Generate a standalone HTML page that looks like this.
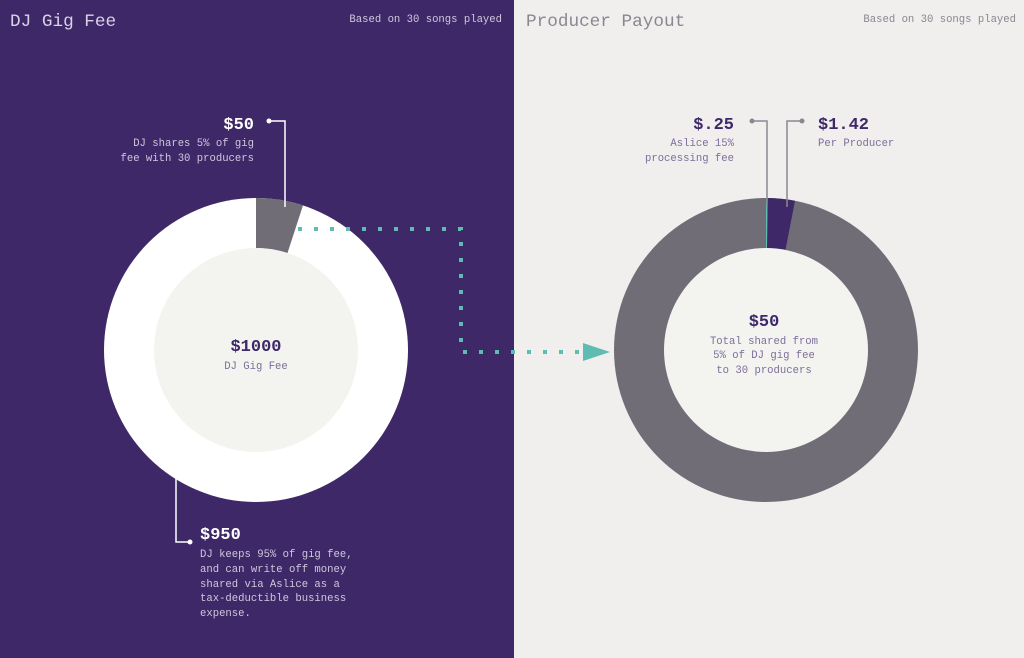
<!DOCTYPE html>
<html><head><meta charset="utf-8"><style>
body{margin:0;width:1024px;height:658px;overflow:hidden}
svg{display:block}
text{font-family:"Liberation Mono",monospace}
</style></head><body>
<svg width="1024" height="658" viewBox="0 0 1024 658">
<rect x="0" y="0" width="514" height="658" fill="#3e2868"/>
<rect x="514" y="0" width="510" height="658" fill="#f0efee"/>
<text x="10" y="26" font-size="17.7" fill="#d9d2e6">DJ Gig Fee</text>
<text x="502" y="22" font-size="10.6" fill="#cfc8dc" text-anchor="end">Based on 30 songs played</text>
<text x="526" y="26" font-size="17.7" fill="#8a8790">Producer Payout</text>
<text x="1016" y="22" font-size="10.6" fill="#8a8790" text-anchor="end">Based on 30 songs played</text>

<circle cx="256" cy="350" r="152" fill="#ffffff"/>
<path d="M256 198 A152 152 0 0 1 303 205.4 L287.5 253 A102 102 0 0 0 256 248 Z" fill="#716d76"/>
<circle cx="256" cy="350" r="102" fill="#f3f3ef"/>
<text x="256" y="351" font-size="17" font-weight="bold" fill="#3e2868" text-anchor="middle">$1000</text>
<text x="256" y="369" font-size="10.6" fill="#7d6e9a" text-anchor="middle">DJ Gig Fee</text>

<path d="M298 229 H461 V352 H580" fill="none" stroke="#5fbcb2" stroke-width="4" stroke-dasharray="4 12"/>
<polygon points="583,343 610,352 583,361" fill="#5fbcb2"/>

<circle cx="269" cy="121" r="2.5" fill="#fff"/>
<path d="M269 121 H285 V207" fill="none" stroke="#fff" stroke-width="1.5"/>
<text x="254" y="129" font-size="17" font-weight="bold" fill="#fff" text-anchor="end">$50</text>
<text x="254" y="146" font-size="10.6" fill="#cfc8dc" text-anchor="end">DJ shares 5% of gig</text>
<text x="254" y="161" font-size="10.6" fill="#cfc8dc" text-anchor="end">fee with 30 producers</text>

<circle cx="190" cy="542" r="2.5" fill="#fff"/>
<path d="M190 542 H176 V455" fill="none" stroke="#fff" stroke-width="1.5"/>
<text x="200" y="539" font-size="17" font-weight="bold" fill="#fff">$950</text>
<text x="200" y="557" font-size="10.6" fill="#cfc8dc">DJ keeps 95% of gig fee,</text>
<text x="200" y="572" font-size="10.6" fill="#cfc8dc">and can write off money</text>
<text x="200" y="587" font-size="10.6" fill="#cfc8dc">shared via Aslice as a</text>
<text x="200" y="601" font-size="10.6" fill="#cfc8dc">tax-deductible business</text>
<text x="200" y="616" font-size="10.6" fill="#cfc8dc">expense.</text>

<circle cx="766" cy="350" r="152" fill="#716d76"/>
<path d="M767.6 198 A152 152 0 0 1 795 200.8 L785.5 249.9 A102 102 0 0 0 767 248 Z" fill="#3e2868"/>
<path d="M766 198 L767.6 198 L767 248 L766 248 Z" fill="#5fbcb2"/>
<circle cx="766" cy="350" r="102" fill="#f3f3ef"/>
<text x="764" y="326" font-size="17" font-weight="bold" fill="#3e2868" text-anchor="middle">$50</text>
<text x="764" y="344" font-size="10.6" fill="#7d6e9a" text-anchor="middle">Total shared from</text>
<text x="764" y="358" font-size="10.6" fill="#7d6e9a" text-anchor="middle">5% of DJ gig fee</text>
<text x="764" y="373" font-size="10.6" fill="#7d6e9a" text-anchor="middle">to 30 producers</text>

<circle cx="752" cy="121" r="2.5" fill="#8a8790"/>
<path d="M752 121 H767 V206" fill="none" stroke="#8a8790" stroke-width="1.5"/>
<text x="734" y="129" font-size="17" font-weight="bold" fill="#3e2868" text-anchor="end">$.25</text>
<text x="734" y="146" font-size="10.6" fill="#7d6e9a" text-anchor="end">Aslice 15%</text>
<text x="734" y="161" font-size="10.6" fill="#7d6e9a" text-anchor="end">processing fee</text>

<circle cx="802" cy="121" r="2.5" fill="#8a8790"/>
<path d="M802 121 H787 V207" fill="none" stroke="#8a8790" stroke-width="1.5"/>
<text x="818" y="129" font-size="17" font-weight="bold" fill="#3e2868">$1.42</text>
<text x="818" y="146" font-size="10.6" fill="#7d6e9a">Per Producer</text>
</svg>
</body></html>
